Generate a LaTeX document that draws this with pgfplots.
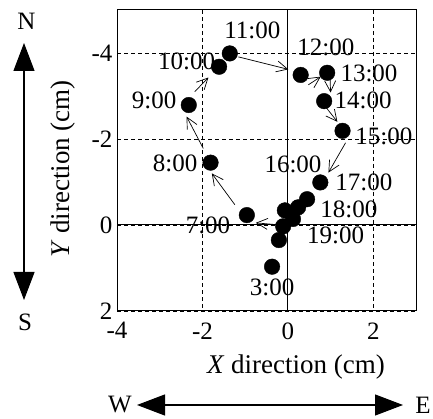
\documentclass[border=0pt]{standalone}
\usepackage{fontspec}
\setmainfont{Liberation Serif}
\usepackage{pgfplots}
\pgfplotsset{compat=1.18}
\usetikzlibrary{arrows.meta}
\pgfplotstableread{
x y
-0.37 0.97
-0.96 -0.23
-1.81 -1.45
-2.32 -2.79
-1.61 -3.68
-1.36 -3.99
0.30 -3.49
0.92 -3.54
0.85 -2.88
1.28 -2.19
0.76 -0.99
0.45 -0.60
0.24 -0.41
-0.07 -0.34
0.12 -0.14
-0.11 0.03
-0.21 0.35
}\pts
\begin{document}
\begin{tikzpicture}[x=1pt,y=1pt]
\useasboundingbox (0,0) rectangle (433,419);
\begin{axis}[
  at={(266.5pt,258.5pt)}, anchor=center,
  width=299pt, height=301pt, scale only axis,
  xmin=-4, xmax=3, ymin=-5, ymax=2, y dir=reverse,
  xtick={-4,-2,0,2}, xticklabels={-4,-2,0,2},
  ytick={-4,-2,0,2}, yticklabels={-4,-2,0,2},
  tick style={draw=none},
  ticklabel style={font=\fontsize{25}{30}\selectfont},
  xticklabel style={yshift=-8pt},
  yticklabel style={xshift=-1pt},
  grid=major,
  grid style={black, line width=0.8pt, dash pattern=on 4pt off 3pt},
  axis line style={line width=1pt},
  clip=false,
]
\draw[line width=1pt] (axis cs:0,-5) -- (axis cs:0,2);
\draw[line width=1pt] (axis cs:-4,0) -- (axis cs:3,0);
\addplot[only marks, mark=*, mark size=7.8pt, black] table {\pts};
\begin{scope}[line width=0.7pt, -{Straight Barb[length=11pt,width=11pt]}]
\draw (axis cs:-0.18,0) -- (axis cs:-0.75,-0.05);
\draw (axis cs:-1.24,-0.47) -- (axis cs:-1.78,-1.20);
\draw (axis cs:-1.98,-1.78) -- (axis cs:-2.37,-2.52);
\draw (axis cs:-2.18,-3.10) -- (axis cs:-1.86,-3.43);
\draw (axis cs:-1.16,-3.91) -- (axis cs:0.01,-3.62);
\draw (axis cs:0.48,-3.26) -- (axis cs:0.77,-3.45);
\draw (axis cs:0.99,-3.37) -- (axis cs:1.00,-3.08);
\draw (axis cs:0.89,-2.74) -- (axis cs:1.16,-2.40);
\draw (axis cs:1.35,-1.91) -- (axis cs:0.95,-1.22);
\end{scope}
\begin{scope}[every node/.style={font=\fontsize{25}{30}\selectfont, inner sep=0pt}]
\node at (axis cs:-0.37,1.44) {3:00};
\node at (axis cs:-1.87,0.02) {7:00};
\node at (axis cs:-2.64,-1.44) {8:00};
\node at (axis cs:-3.13,-2.91) {9:00};
\node at (axis cs:-2.37,-3.81) {10:00};
\node at (axis cs:-0.83,-4.53) {11:00};
\node at (axis cs:0.89,-4.14) {12:00};
\node at (axis cs:1.90,-3.53) {13:00};
\node at (axis cs:1.76,-2.91) {14:00};
\node at (axis cs:2.25,-2.05) {15:00};
\node at (axis cs:0.12,-1.40) {16:00};
\node at (axis cs:1.78,-0.98) {17:00};
\node at (axis cs:1.43,-0.37) {18:00};
\node at (axis cs:1.12,0.23) {19:00};
\end{scope}
\end{axis}
\node[font=\fontsize{27}{32}\selectfont] at (296,52) {\textit{X} direction (cm)};
\node[font=\fontsize{27}{32}\selectfont, rotate=90] at (63,250) {\textit{Y} direction (cm)};
\draw[line width=1.2pt, {Triangle[length=28pt,width=21pt]}-{Triangle[length=28pt,width=21pt]}] (24,376) -- (24,119);
\draw[line width=1.2pt, {Triangle[length=28pt,width=21pt]}-{Triangle[length=28pt,width=21pt]}] (137,14) -- (403,14);
\node[font=\fontsize{25}{30}\selectfont] at (26.5,398) {N};
\node[font=\fontsize{25}{30}\selectfont] at (25,97) {S};
\node[font=\fontsize{25}{30}\selectfont] at (120,14) {W};
\node[font=\fontsize{25}{30}\selectfont] at (423,14) {E};
\end{tikzpicture}
\end{document}
